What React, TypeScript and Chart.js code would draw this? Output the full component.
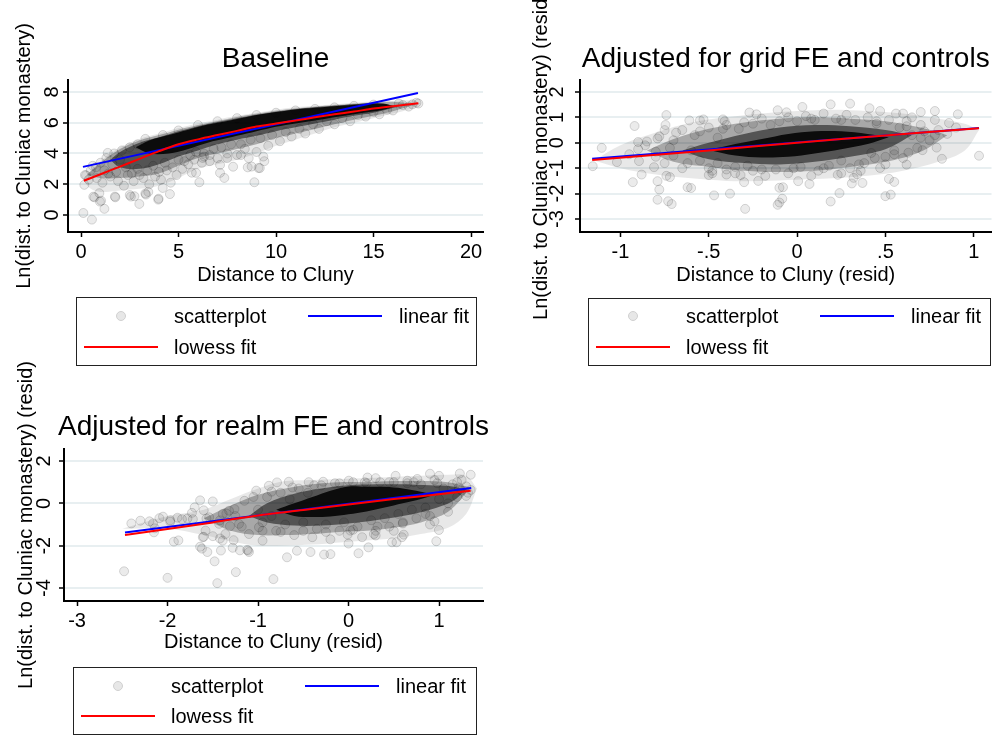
import { useEffect, useRef } from "react";
import { Chart, registerables } from "chart.js";

Chart.register(...registerables);

const FONT = '"Liberation Sans", Arial, Helvetica, sans-serif';
const LEGEND_LABELS = ["scatterplot", "linear fit", "lowess fit"];

// ---------------- Panel 1: Baseline ----------------
const p1XTicks = [0, 5, 10, 15, 20];
const p1XTickLabels = ["0", "5", "10", "15", "20"];
const p1YTicks = [0, 2, 4, 6, 8];
const p1YTickLabels = ["0", "2", "4", "6", "8"];
const p1Linear = [[0.1, 3.13], [17.28, 7.93]];
const p1Lowess = [
  [0.15, 2.23], [1, 2.65], [2, 3.15], [3, 3.65], [4, 4.15], [5, 4.6], [6, 4.92], [7, 5.2],
  [8, 5.47], [9, 5.75], [10, 5.95], [11, 6.15], [12, 6.35], [13, 6.55], [14, 6.73], [15, 6.92],
  [16, 7.07], [17.3, 7.27],
];
// density bands of the point cloud (outer -> core)
const p1AX = [0.1, 0.5, 1, 2, 3, 4, 5, 6, 7, 8, 9, 10, 11, 12, 13, 14, 15, 16, 17, 17.4];
const p1AUp = [2.3, 2.9, 3.5, 4.4, 4.95, 5.3, 5.65, 5.95, 6.2, 6.45, 6.65, 6.85, 7.0, 7.1, 7.2, 7.3, 7.38, 7.42, 7.45, 7.25];
const p1ALo = [2.3, 1.7, 1.5, 1.6, 1.7, 1.9, 2.4, 3.0, 3.3, 3.6, 4.0, 4.5, 4.9, 5.3, 5.7, 6.0, 6.3, 6.6, 6.95, 7.25];
const p1BX = [0.3, 1, 2, 3, 4, 5, 6, 7, 8, 9, 10, 11, 12, 13, 14, 15, 16, 17.2];
const p1BUp = [2.6, 3.4, 4.3, 4.85, 5.2, 5.55, 5.85, 6.12, 6.38, 6.58, 6.78, 6.93, 7.04, 7.15, 7.24, 7.32, 7.36, 7.2];
const p1BLo = [2.6, 2.4, 2.4, 2.5, 2.7, 3.2, 3.7, 4.0, 4.3, 4.6, 5.0, 5.3, 5.6, 5.9, 6.2, 6.45, 6.75, 7.2];
const p1CX = [1.5, 2, 3, 4, 5, 6, 7, 8, 9, 10, 11, 12, 13, 14, 15, 16.3];
const p1CUp = [3.6, 4.1, 4.7, 5.05, 5.45, 5.78, 6.05, 6.3, 6.52, 6.72, 6.88, 7.0, 7.1, 7.2, 7.28, 7.05];
const p1CLo = [3.6, 3.1, 3.0, 3.3, 3.8, 4.2, 4.6, 4.9, 5.15, 5.45, 5.7, 5.95, 6.2, 6.45, 6.65, 7.05];
const p1DX = [2.8, 3.5, 4.5, 5.5, 6.5, 7.5, 8.5, 9.5, 10.5, 11.5, 12.5, 13.5, 14.5, 15.5, 16.1];
const p1DUp = [4.4, 4.85, 5.2, 5.55, 5.88, 6.12, 6.38, 6.6, 6.78, 6.92, 7.03, 7.12, 7.2, 7.25, 7.05];
const p1DLo = [4.4, 4.0, 4.0, 4.3, 4.7, 5.0, 5.3, 5.6, 5.85, 6.05, 6.25, 6.45, 6.65, 6.85, 7.05];
const p1Points = [
  [0.12, 0.13], [0.56, -0.3], [1.2, 0.4], [0.69, 1.15], [1.03, 0.93], [0.94, 1.42], [1.76, 1.15],
  [2.56, 1.2], [2.74, 1.22], [2.99, 0.72], [3.33, 1.33], [3.45, 1.5], [3.98, 1.06], [4.56, 1.36],
  [6.07, 2.13], [8.89, 2.13], [8.55, 3.1], [9.1, 3.06], [8.75, 3.15], [9.4, 3.5], [7.35, 2.41],
  [7.13, 2.74], [7.13, 3.26], [7.8, 3.14], [6.24, 3.71], [6.31, 3.8], [5.9, 2.74], [5.68, 2.75],
  [4.19, 1.76], [0.26, 2.58], [0.17, 1.96], [0.2, 2.6], [0.63, 1.19], [0.97, 0.87], [1.74, 1.2],
  [2.5, 1.3], [3.3, 1.4], [3.96, 1.0], [1.37, 4.04], [0.77, 3.1], [9.17, 3.05], [9.35, 3.8],
  [8.2, 3.9], [8.6, 3.7], [7.5, 3.7], [6.6, 3.5],
  [0.4, 2.3], [0.5, 2.9], [0.6, 3.2], [0.8, 2.4], [1.0, 3.4], [1.1, 2.1], [1.3, 3.7], [1.4, 2.7],
  [1.6, 3.3], [1.7, 4.0], [1.9, 2.2], [2.0, 3.6], [2.1, 4.2], [2.2, 1.9], [2.4, 2.6], [2.5, 4.4],
  [2.7, 2.2], [2.9, 3.0], [2.9, 4.6], [3.2, 2.4], [3.5, 2.0], [3.8, 2.5], [4.1, 2.3], [4.4, 2.9],
  [4.6, 2.1], [4.9, 2.6], [5.2, 3.0], [5.5, 3.3], [5.8, 3.6], [6.2, 3.4], [6.6, 3.9], [7.0, 3.7],
  [7.5, 4.0], [8.0, 3.9], [8.4, 4.3], [9.0, 4.1], [9.6, 4.5], [10.2, 4.8], [10.8, 5.1], [11.5, 5.3],
  [12.2, 5.6], [13.0, 5.9], [13.8, 6.1], [14.6, 6.4], [15.3, 6.55], [16.0, 6.8], [16.5, 7.15],
  [16.8, 7.05], [17.0, 7.2], [17.3, 7.25], [17.2, 7.3], [16.3, 7.25],
  [3.3, 4.95], [4.2, 5.2], [5.0, 5.5], [6.0, 5.85], [7.0, 6.1], [8.0, 6.3], [9.0, 6.5], [10.0, 6.65],
  [11.0, 6.8], [12.0, 6.9], [13.0, 7.0], [14.0, 7.1], [15.0, 7.18],
  [1.2, 2.9], [1.5, 2.5], [1.8, 2.8], [2.3, 3.1], [2.6, 2.7], [3.0, 2.6], [3.4, 2.9], [3.7, 3.2],
  [4.0, 2.8], [4.3, 3.4], [4.7, 3.1], [5.0, 3.6], [5.3, 3.5], [5.6, 3.9], [5.9, 4.1], [6.3, 4.0],
  [6.8, 4.3], [7.2, 4.4], [7.7, 4.6], [8.2, 4.6], [8.7, 4.9], [9.2, 5.0], [9.8, 5.2], [10.5, 5.4],
  [11.2, 5.6], [11.9, 5.9], [12.6, 6.1], [13.4, 6.3], [14.2, 6.5], [15.0, 6.7], [15.7, 6.85],
];

// ---------------- Panel 2: grid FE ----------------
const p2XTicks = [-1, -0.5, 0, 0.5, 1];
const p2XTickLabels = ["-1", "-.5", "0", ".5", "1"];
const p2YTicks = [-3, -2, -1, 0, 1, 2];
const p2YTickLabels = ["-3", "-2", "-1", "0", "1", "2"];
const p2Linear = [[-1.16, -0.63], [1.03, 0.58]];
const p2Lowess = [[-1.16, -0.68], [-0.5, -0.3], [0, 0.0], [0.5, 0.29], [1.03, 0.57]];
const p2AX = [-1.15, -1.0, -0.8, -0.6, -0.4, -0.2, 0, 0.2, 0.4, 0.6, 0.8, 0.95, 1.03];
const p2AUp = [-0.7, -0.1, 0.4, 0.8, 1.0, 1.15, 1.25, 1.3, 1.25, 1.15, 0.95, 0.75, 0.5];
const p2ALo = [-0.7, -1.0, -1.25, -1.4, -1.5, -1.5, -1.45, -1.4, -1.3, -1.1, -0.75, -0.3, 0.5];
const p2BX = [-0.85, -0.7, -0.5, -0.3, -0.1, 0.1, 0.3, 0.5, 0.7, 0.85];
const p2BUp = [-0.3, 0.15, 0.55, 0.8, 0.95, 1.0, 0.95, 0.85, 0.6, 0.3];
const p2BLo = [-0.3, -0.75, -0.95, -1.1, -1.15, -1.1, -0.95, -0.75, -0.35, 0.3];
const p2CX = [-0.65, -0.5, -0.3, -0.1, 0.1, 0.3, 0.5, 0.65];
const p2CUp = [-0.3, 0.0, 0.35, 0.6, 0.7, 0.65, 0.5, 0.3];
const p2CLo = [-0.3, -0.65, -0.8, -0.85, -0.75, -0.55, -0.25, 0.3];
const p2DX = [-0.5, -0.35, -0.2, -0.05, 0.1, 0.25, 0.4, 0.52];
const p2DUp = [-0.28, -0.05, 0.15, 0.35, 0.45, 0.45, 0.35, 0.22];
const p2DLo = [-0.28, -0.5, -0.58, -0.55, -0.42, -0.25, -0.05, 0.22];
const p2Points = [
  [-1.157, -0.92], [-1.106, -0.2], [-1.02, -0.76], [-0.92, 0.66], [-0.93, -1.55], [-0.9, 0.03],
  [-0.895, -0.72], [-0.88, -1.25], [-0.86, -0.1], [-0.79, 0.17], [-0.78, 0.25], [-0.81, -0.96],
  [-0.79, -1.51], [-0.78, -1.84], [-0.79, -2.24], [-0.73, -2.3], [-0.71, -2.41], [-0.74, -1.3],
  [-0.72, -1.35], [-0.74, 1.09], [-0.745, 0.7], [-0.75, 0.5], [-0.685, 0.4], [-0.61, 0.88],
  [-0.55, 0.88], [-0.53, 0.92], [-0.6, -1.78], [-0.62, -1.75], [-0.47, -2.07], [-0.42, 0.92],
  [-0.41, 0.85], [-0.38, -2.0], [-0.294, -2.6], [-0.27, 1.19], [-0.23, 1.12], [-0.11, 1.28],
  [-0.11, -2.44], [-0.1, -2.35], [-0.1, -1.77], [-0.08, -1.75], [-0.22, -1.5], [-0.3, -1.55],
  [-0.32, -1.27], [-0.4, -1.25], [-0.5, -1.27], [-0.48, -1.2],
  [1.03, -0.51], [0.91, 1.12], [0.82, -0.63], [0.79, -0.19], [0.86, 0.78], [0.78, 1.25], [0.78, 0.9],
  [0.7, 1.21], [0.71, -0.29], [0.62, -0.86], [0.55, -1.54], [0.52, -1.42], [0.53, -2.04], [0.5, -2.1],
  [0.63, -0.39], [0.37, -1.58], [0.31, -1.6], [0.32, -1.38], [0.24, -1.98], [0.19, -2.31], [0.3, 1.54],
  [0.19, 1.51], [0.41, 1.36], [0.47, 1.25], [0.56, 1.15], [0.6, 1.15], [0.65, 1.0], [0.03, 1.41],
  [-0.06, 1.2], [0.006, -1.51], [0.07, -1.62], [-0.084, -2.2], [0.47, -0.99], [0.5, -0.85],
  [0.44, -0.6], [0.36, -1.1], [0.23, -1.26], [0.25, -1.2], [0.34, -1.24],
  [-0.95, -0.45], [-0.9, -0.25], [-0.85, 0.05], [-0.8, -0.55], [-0.75, -0.8], [-0.7, 0.1], [-0.7, -0.5],
  [-0.65, 0.5], [-0.65, -1.0], [-0.6, -0.3], [-0.58, 0.3], [-0.55, -0.7], [-0.5, 0.6], [-0.5, -1.0],
  [-0.45, 0.2], [-0.45, -0.8], [-0.4, 0.7], [-0.4, -1.05], [-0.35, -1.2], [-0.33, 0.55], [-0.3, 0.8],
  [-0.28, -0.9], [-0.25, -1.1], [-0.2, 0.95], [-0.18, -1.3], [-0.15, 0.7], [-0.12, -1.05], [-0.05, 1.0],
  [-0.05, -1.2], [0.0, 0.85], [0.02, -0.95], [0.05, 1.05], [0.08, -1.3], [0.1, 0.9], [0.12, -1.1],
  [0.15, 1.15], [0.18, -0.9], [0.22, 0.95], [0.25, -0.7], [0.28, 1.1], [0.3, -1.0], [0.33, 0.9],
  [0.38, -0.8], [0.4, 1.0], [0.42, -0.4], [0.45, 0.75], [0.5, -0.55], [0.52, 0.9], [0.55, -0.3],
  [0.58, 0.6], [0.6, -0.6], [0.62, 0.85], [0.65, 0.3], [0.68, -0.2], [0.7, 0.7], [0.72, 0.45],
  [0.75, 0.1], [0.8, 0.5], [0.85, 0.35], [0.9, 0.6],
  [-0.8, -0.35], [-0.72, -0.2], [-0.62, -0.8], [-0.55, 0.45], [-0.48, -1.1], [-0.42, 0.55],
  [-0.35, -0.95], [-0.25, 0.75], [-0.2, -1.05], [-0.1, 0.85], [-0.02, -1.0], [0.08, 0.95],
  [0.15, -1.0], [0.25, 0.9], [0.35, -0.85], [0.45, 0.85], [0.55, -0.45], [0.62, 0.65], [0.7, 0.2],
  [0.78, 0.3],
];

// ---------------- Panel 3: realm FE ----------------
const p3XTicks = [-3, -2, -1, 0, 1];
const p3XTickLabels = ["-3", "-2", "-1", "0", "1"];
const p3YTicks = [-4, -2, 0, 2];
const p3YTickLabels = ["-4", "-2", "0", "2"];
const p3Linear = [[-2.47, -1.38], [1.356, 0.72]];
const p3Lowess = [
  [-2.47, -1.5], [-2, -1.21], [-1.5, -0.9], [-1, -0.58], [-0.5, -0.32], [0, -0.05], [0.5, 0.2],
  [1, 0.43], [1.35, 0.6],
];
const p3AX = [-2.5, -2.0, -1.6, -1.3, -1.0, -0.7, -0.4, -0.1, 0.2, 0.5, 0.8, 1.1, 1.3, 1.42];
const p3AUp = [-1.2, -0.6, -0.3, 0.2, 0.7, 1.05, 1.1, 1.15, 1.2, 1.25, 1.3, 1.35, 1.3, 0.7];
const p3ALo = [-1.2, -1.2, -1.5, -1.8, -2.0, -2.0, -1.95, -1.85, -1.75, -1.65, -1.45, -1.15, -0.5, 0.7];
const p3BX = [-1.6, -1.3, -1.0, -0.7, -0.4, -0.1, 0.2, 0.5, 0.8, 1.1, 1.35];
const p3BUp = [-0.7, -0.1, 0.4, 0.7, 0.9, 1.0, 1.0, 1.05, 1.05, 1.0, 0.75];
const p3BLo = [-0.7, -1.3, -1.5, -1.5, -1.45, -1.35, -1.3, -1.15, -0.9, -0.4, 0.75];
const p3CX = [-1.1, -0.9, -0.6, -0.3, 0.0, 0.3, 0.6, 0.9, 1.15, 1.3];
const p3CUp = [-0.6, 0.0, 0.45, 0.7, 0.85, 0.9, 0.9, 0.85, 0.8, 0.65];
const p3CLo = [-0.6, -0.9, -1.05, -1.05, -0.95, -0.8, -0.6, -0.3, 0.1, 0.65];
const p3DX = [-0.8, -0.6, -0.4, -0.2, 0.0, 0.2, 0.4, 0.6, 0.8, 0.95];
const p3DUp = [-0.3, 0.0, 0.3, 0.6, 0.8, 0.78, 0.78, 0.7, 0.55, 0.4];
const p3DLo = [-0.3, -0.6, -0.65, -0.62, -0.52, -0.38, -0.2, 0.0, 0.2, 0.4];
const p3Points = [
  [-2.48, -3.21], [-2.0, -3.52], [-1.45, -3.77], [-1.245, -3.25], [-1.48, -2.74], [-0.83, -3.58],
  [-2.4, -0.95], [-2.3, -0.82], [-2.2, -0.85], [-2.16, -0.95], [-2.14, -1.18], [-2.15, -1.37],
  [-2.05, -0.63], [-2.09, -0.7], [-1.97, -0.87], [-1.97, -0.8], [-1.89, -0.68], [-1.84, -0.75],
  [-1.78, -0.72], [-1.72, -0.75], [-1.93, -1.81], [-1.88, -1.75], [-1.73, -0.45], [-1.64, 0.14],
  [-1.6, -0.33], [-1.57, -0.72], [-1.5, 0.09], [-1.7, -0.19], [-1.42, -0.8], [-1.35, -0.48],
  [-1.31, -1.08], [-1.6, -1.58], [-1.5, -1.55], [-1.42, -1.66], [-1.64, -2.05], [-1.62, -2.14],
  [-1.56, -2.3], [-1.41, -2.23], [-1.27, -1.74], [-1.2, -2.22], [-1.28, -2.1], [-1.12, -2.2],
  [-1.1, -2.3], [-1.26, -0.27], [-1.15, 0.12], [-1.02, 0.6], [-0.88, 0.83], [-1.11, -2.23],
  [-1.39, -1.76], [-1.1, -1.45], [-0.95, -1.76], [-0.99, -1.13], [-1.21, -0.97], [-1.36, -1.45],
  [-1.43, -0.97], [-1.58, -1.29], [-1.61, -1.6], [-1.54, -0.66], [-1.39, -0.5], [-1.32, -0.35],
  [-0.68, -2.55], [-0.27, -2.42], [-0.2, -2.4], [0.11, -2.36], [0.22, -2.08], [-0.42, -2.3],
  [-0.57, -2.24], [0.97, -1.79], [0.999, -1.26], [1.35, 1.35], [1.23, 1.41], [1.0, 1.3], [0.9, 1.4],
  [1.35, 0.63], [1.25, 0.6], [1.2, 1.0],
  [0.76, 1.15], [0.65, 1.07], [0.52, 1.3], [0.3, 1.19], [0.21, 1.22], [0.003, 1.07], [-0.28, 1.02],
  [-0.44, 1.0], [-0.66, 1.02], [-0.79, 0.99], [0.48, -1.84], [0.53, -1.84], [0.59, -1.6],
  [0.61, -1.48], [0.5, -1.3], [0.3, -1.52], [0.28, -1.45], [0.02, -1.29], [-0.01, -1.48],
  [-1.0, -0.3], [-0.95, -0.9], [-0.9, 0.3], [-0.85, -0.6], [-0.8, -1.3], [-0.75, 0.5], [-0.7, -1.0],
  [-0.65, 0.2], [-0.6, -1.5], [-0.55, 0.7], [-0.5, -0.9], [-0.45, 0.5], [-0.4, -1.6], [-0.35, -1.2],
  [-0.3, 0.85], [-0.25, -1.0], [-0.2, -1.7], [-0.15, 0.95], [-0.1, -1.3], [-0.05, -0.9], [0.0, -1.9],
  [0.05, 1.0], [0.1, -1.1], [0.15, -1.6], [0.2, 0.95], [0.25, -0.8], [0.3, -1.3], [0.35, 1.0],
  [0.4, -0.7], [0.45, -1.1], [0.5, 1.0], [0.55, -0.5], [0.6, -0.9], [0.65, 0.95], [0.7, -0.3],
  [0.75, -0.7], [0.8, 0.9], [0.85, -0.2], [0.9, -0.6], [0.95, 1.1], [1.0, 0.2], [1.05, 0.7],
  [1.1, -0.4], [1.15, 0.9], [1.2, 0.3], [1.25, 1.1], [1.3, 0.8], [1.32, 0.5], [0.9, -1.0], [0.95, -0.85],
  [-1.25, -0.6], [-1.18, -1.1], [-1.05, 0.3], [-0.95, -1.3], [-0.85, 0.55], [-0.75, -1.35],
  [-0.62, 0.75], [-0.5, -1.3], [-0.38, 0.85], [-0.25, -1.35], [-0.1, 0.95], [0.05, -1.25],
  [0.18, 1.0], [0.32, -1.1], [0.45, 1.0], [0.6, -0.95], [0.72, 1.0], [0.85, -0.5], [0.98, 0.95],
  [1.1, 0.0], [1.22, 0.75], [1.3, 0.35],
];

// ---------------- helpers ----------------
const toXY = (a: number[][]) => a.map(([x, y]) => ({ x, y }));
const zipXY = (xs: number[], ys: number[]) => xs.map((x, i) => ({ x, y: ys[i] }));

function band(xs: number[], up: number[], lo: number[], color: string, order: number) {
  const common = {
    type: "line",
    pointRadius: 0,
    borderColor: "rgba(0,0,0,0)",
    borderWidth: 1,
    tension: 0.35,
    order,
  };
  return [
    { ...common, data: zipXY(xs, up), fill: "+1", backgroundColor: color },
    { ...common, data: zipXY(xs, lo), fill: false, backgroundColor: color },
  ];
}

type Band = { x: number[]; up: number[]; lo: number[] };
type PanelCfg = {
  area: { left: number; right: number; top: number; bottom: number };
  xMin: number; xMax: number; yMin: number; yMax: number;
  xTicks: number[]; xTickLabels: string[]; yTicks: number[]; yTickLabels: string[];
  title: string; titleY: number; xTitle: string; yTitle: string;
  xTickY: number; xTitleY: number; yTickX: number; yTitleX: number;
  legend: { left: number; top: number; width: number; height: number; rows: number[] };
  points: number[][]; linear: number[][]; lowess: number[][];
  bands: Band[]; // outer -> core
};

const W = 997;
const H = 736;

const panels: PanelCfg[] = [
  {
    area: { left: 68, right: 483, top: 80, bottom: 232 },
    xMin: -0.667, xMax: 20.615, yMin: -1.106, yMax: 8.78,
    xTicks: p1XTicks, xTickLabels: p1XTickLabels, yTicks: p1YTicks, yTickLabels: p1YTickLabels,
    title: "Baseline", titleY: 67, xTitle: "Distance to Cluny", yTitle: "Ln(dist. to Cluniac monastery)",
    xTickY: 258, xTitleY: 281, yTickX: 58, yTitleX: 30,
    legend: { left: 76, top: 297, width: 400, height: 68, rows: [316, 347] },
    points: p1Points, linear: p1Linear, lowess: p1Lowess,
    bands: [
      { x: p1AX, up: p1AUp, lo: p1ALo },
      { x: p1BX, up: p1BUp, lo: p1BLo },
      { x: p1CX, up: p1CUp, lo: p1CLo },
      { x: p1DX, up: p1DUp, lo: p1DLo },
    ],
  },
  {
    area: { left: 580, right: 997, top: 80, bottom: 232 },
    xMin: -1.229, xMax: 1.1006, yMin: -3.51, yMax: 2.47,
    xTicks: p2XTicks, xTickLabels: p2XTickLabels, yTicks: p2YTicks, yTickLabels: p2YTickLabels,
    title: "Adjusted for grid FE and controls", titleY: 67, xTitle: "Distance to Cluny (resid)",
    yTitle: "Ln(dist. to Cluniac monastery) (resid)",
    xTickY: 258, xTitleY: 281, yTickX: 563, yTitleX: 547,
    legend: { left: 588, top: 298, width: 402, height: 67, rows: [316, 347] },
    points: p2Points, linear: p2Linear, lowess: p2Lowess,
    bands: [
      { x: p2AX, up: p2AUp, lo: p2ALo },
      { x: p2BX, up: p2BUp, lo: p2BLo },
      { x: p2CX, up: p2CUp, lo: p2CLo },
      { x: p2DX, up: p2DUp, lo: p2DLo },
    ],
  },
  {
    area: { left: 64, right: 483, top: 449, bottom: 601 },
    xMin: -3.144, xMax: 1.486, yMin: -4.614, yMax: 2.567,
    xTicks: p3XTicks, xTickLabels: p3XTickLabels, yTicks: p3YTicks, yTickLabels: p3YTickLabels,
    title: "Adjusted for realm FE and controls", titleY: 435, xTitle: "Distance to Cluny (resid)",
    yTitle: "Ln(dist. to Cluniac monastery) (resid)",
    xTickY: 627, xTitleY: 648, yTickX: 50, yTitleX: 32,
    legend: { left: 73, top: 667, width: 403, height: 67, rows: [686, 716] },
    points: p3Points, linear: p3Linear, lowess: p3Lowess,
    bands: [
      { x: p3AX, up: p3AUp, lo: p3ALo },
      { x: p3BX, up: p3BUp, lo: p3BLo },
      { x: p3CX, up: p3CUp, lo: p3CLo },
      { x: p3DX, up: p3DUp, lo: p3DLo },
    ],
  },
];

// outer -> core fill opacities
const BAND_COLORS = ["rgba(0,0,0,0.09)", "rgba(0,0,0,0.28)", "rgba(0,0,0,0.5)", "rgba(0,0,0,0.86)"];

function textPlugin(cfg: PanelCfg) {
  return {
    id: "stataTexts",
    afterDraw(chart: any) {
      const ctx = chart.ctx as CanvasRenderingContext2D;
      const xs = chart.scales.x;
      const ys = chart.scales.y;
      const ca = chart.chartArea;
      const cx = (ca.left + ca.right) / 2;
      const cy = (ca.top + ca.bottom) / 2;
      ctx.save();
      ctx.fillStyle = "#000";
      ctx.textBaseline = "alphabetic";
      ctx.textAlign = "center";
      ctx.font = `28px ${FONT}`;
      ctx.fillText(cfg.title, cx, cfg.titleY);

      ctx.font = `20px ${FONT}`;
      cfg.xTicks.forEach((v, i) => ctx.fillText(cfg.xTickLabels[i], xs.getPixelForValue(v), cfg.xTickY));
      ctx.fillText(cfg.xTitle, cx, cfg.xTitleY);

      cfg.yTicks.forEach((v, i) => {
        ctx.save();
        ctx.translate(cfg.yTickX, ys.getPixelForValue(v));
        ctx.rotate(-Math.PI / 2);
        ctx.fillText(cfg.yTickLabels[i], 0, 0);
        ctx.restore();
      });
      ctx.save();
      ctx.translate(cfg.yTitleX, cy);
      ctx.rotate(-Math.PI / 2);
      ctx.fillText(cfg.yTitle, 0, 0);
      ctx.restore();

      // legend
      const lg = cfg.legend;
      const L = lg.left;
      const [r1, r2] = lg.rows;
      ctx.lineWidth = 1;
      ctx.strokeStyle = "#222";
      ctx.strokeRect(L + 0.5, lg.top + 0.5, lg.width, lg.height);
      ctx.beginPath();
      ctx.arc(L + 45, r1, 4.5, 0, Math.PI * 2);
      ctx.fillStyle = "#e7e7e7";
      ctx.fill();
      ctx.strokeStyle = "#d0d0d0";
      ctx.stroke();
      ctx.fillStyle = "#000";
      ctx.textAlign = "left";
      ctx.fillText(LEGEND_LABELS[0], L + 98, r1 + 7);
      ctx.lineWidth = 2;
      ctx.strokeStyle = "#0000ff";
      ctx.beginPath();
      ctx.moveTo(L + 232, r1);
      ctx.lineTo(L + 306, r1);
      ctx.stroke();
      ctx.fillText(LEGEND_LABELS[1], L + 323, r1 + 7);
      ctx.strokeStyle = "#ff0000";
      ctx.beginPath();
      ctx.moveTo(L + 8, r2);
      ctx.lineTo(L + 82, r2);
      ctx.stroke();
      ctx.fillText(LEGEND_LABELS[2], L + 98, r2 + 7);
      ctx.restore();
    },
  };
}

function Panel({ cfg }: { cfg: PanelCfg }) {
  const ref = useRef<HTMLCanvasElement | null>(null);
  useEffect(() => {
    if (!ref.current) return;
    const datasets: any[] = [
      {
        type: "line", label: LEGEND_LABELS[2], data: toXY(cfg.lowess), borderColor: "#ff0000",
        borderWidth: 2, pointRadius: 0, fill: false, tension: 0.3, order: 0,
      },
      {
        type: "line", label: LEGEND_LABELS[1], data: toXY(cfg.linear), borderColor: "#0000ff",
        borderWidth: 2, pointRadius: 0, fill: false, order: 1,
      },
      {
        type: "scatter", label: LEGEND_LABELS[0], data: toXY(cfg.points), pointRadius: 4.5,
        pointBackgroundColor: "rgba(0,0,0,0.08)", pointBorderColor: "rgba(0,0,0,0.15)",
        pointBorderWidth: 1, order: 2,
      },
    ];
    // core drawn last (lowest order on top)
    cfg.bands.forEach((b, i) => datasets.push(...band(b.x, b.up, b.lo, BAND_COLORS[i], 10 - i)));

    const a = cfg.area;
    const chart = new Chart(ref.current, {
      type: "scatter",
      data: { datasets },
      options: {
        animation: false,
        responsive: false,
        events: [],
        layout: {
          padding: { left: a.left - 10, top: a.top, right: W - a.right, bottom: H - a.bottom - 10 },
        },
        plugins: { legend: { display: false }, tooltip: { enabled: false }, title: { display: false } },
        scales: {
          x: {
            type: "linear",
            min: cfg.xMin,
            max: cfg.xMax,
            afterBuildTicks: (s: any) => { s.ticks = cfg.xTicks.map((v) => ({ value: v })); },
            afterFit: (s: any) => { s.height = 10; },
            ticks: { display: false },
            grid: { drawOnChartArea: false, drawTicks: true, tickLength: 5, tickColor: "#000", tickWidth: 1.5 },
            border: { display: true, color: "#000", width: 2 },
          },
          y: {
            type: "linear",
            min: cfg.yMin,
            max: cfg.yMax,
            afterBuildTicks: (s: any) => { s.ticks = cfg.yTicks.map((v) => ({ value: v })); },
            afterFit: (s: any) => { s.width = 10; },
            ticks: { display: false },
            grid: { color: "#e8eff1", lineWidth: 2, drawTicks: true, tickLength: 5, tickColor: "#000", tickWidth: 1.5 },
            border: { display: true, color: "#000", width: 2 },
          },
        },
      } as any,
      plugins: [textPlugin(cfg)],
    } as any);
    return () => chart.destroy();
  }, [cfg]);
  return (
    <canvas ref={ref} width={W} height={H} style={{ position: "absolute", left: 0, top: 0 }} />
  );
}

export default function App() {
  return (
    <div style={{ position: "absolute", left: 0, top: 0, width: W, height: H, background: "#fff", overflow: "hidden" }}>
      {panels.map((p, i) => (
        <Panel key={i} cfg={p} />
      ))}
    </div>
  );
}
